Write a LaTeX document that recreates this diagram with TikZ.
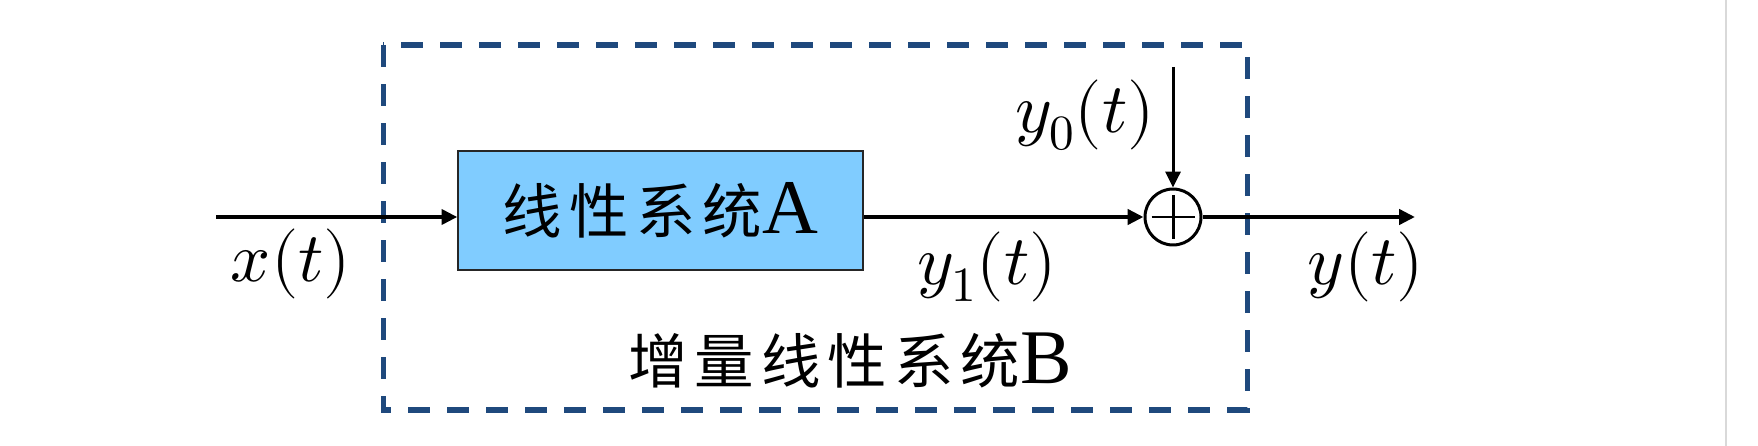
\documentclass[tikz,border=0pt]{standalone}
\usepackage{fontspec}
\usepackage{unicode-math}
\setmainfont{Liberation Serif}
\newfontfamily\cjk[LetterSpace=12,Scale=0.94]{Noto Sans CJK SC}
\usetikzlibrary{arrows.meta}
\definecolor{dashblue}{HTML}{1F497D}
\definecolor{boxblue}{HTML}{80CCFF}
\definecolor{rulegray}{HTML}{D9D9D9}
\begin{document}
\begin{tikzpicture}[x=0.02cm,y=-0.02cm,
  sigstyle/.style={line width=2.3pt,-{Triangle[length=9pt,width=8.5pt]}},
  sysbox/.style={rectangle,draw=black!85,line width=0.8pt,fill=boxblue,minimum width=8.1cm,minimum height=2.38cm,inner sep=0,font=\fontsize{36pt}{40pt}\selectfont},
  sumstyle/.style={circle,draw=black,line width=1.7pt,minimum size=1.12cm,inner sep=0},
  lbl/.style={inner sep=0,font=\fontsize{36pt}{40pt}\selectfont},
  mathlbl/.style={inner sep=0,font=\fontsize{40pt}{44pt}\selectfont}]

\useasboundingbox (0,0) rectangle (1758,446);
\fill[white] (0,0) rectangle (1758,446);
\draw[rulegray,line width=1.2pt] (1726,0) -- (1726,446);

\draw[dashblue,line width=2.85pt,dash pattern=on 12.5pt off 9.7pt] (383,45) rectangle (1247,410);

\node[sysbox] (sysA) at (660.5,210.5) {{\cjk 线性系统}{\fontsize{44pt}{48pt}\selectfont A}};
\node[sumstyle] (sum) at (1173,217) {};
\draw[line width=1.7pt] ([xshift=-0.43cm]sum.center) -- ([xshift=0.43cm]sum.center);
\draw[line width=1.7pt] ([yshift=-0.44cm]sum.center) -- ([yshift=0.44cm]sum.center);

\coordinate (xin) at (216,217);
\coordinate (y0in) at (1173,67);
\coordinate (yout) at (1415,217);

\draw[sigstyle] (xin) -- (xin -| sysA.west);
\draw[sigstyle] (sysA.east |- sum) -- (sum.west);
\draw[sigstyle,line width=1.7pt] (y0in) -- (sum.north);
\draw[sigstyle] (sum.east) -- (yout);

\node[mathlbl] (xlab) at (291,264) {$x(t)$};
\node[mathlbl] (y1lab) at (987,267) {$y_1(t)$};
\node[mathlbl] (y0lab) at (1085,115) {$y_0(t)$};
\node[mathlbl] (ylab) at (1366,267) {$y(t)$};
\node[lbl] (Blab) at (850,361) {{\cjk 增量线性系统}{\fontsize{44pt}{48pt}\selectfont B}};

\end{tikzpicture}
\end{document}
